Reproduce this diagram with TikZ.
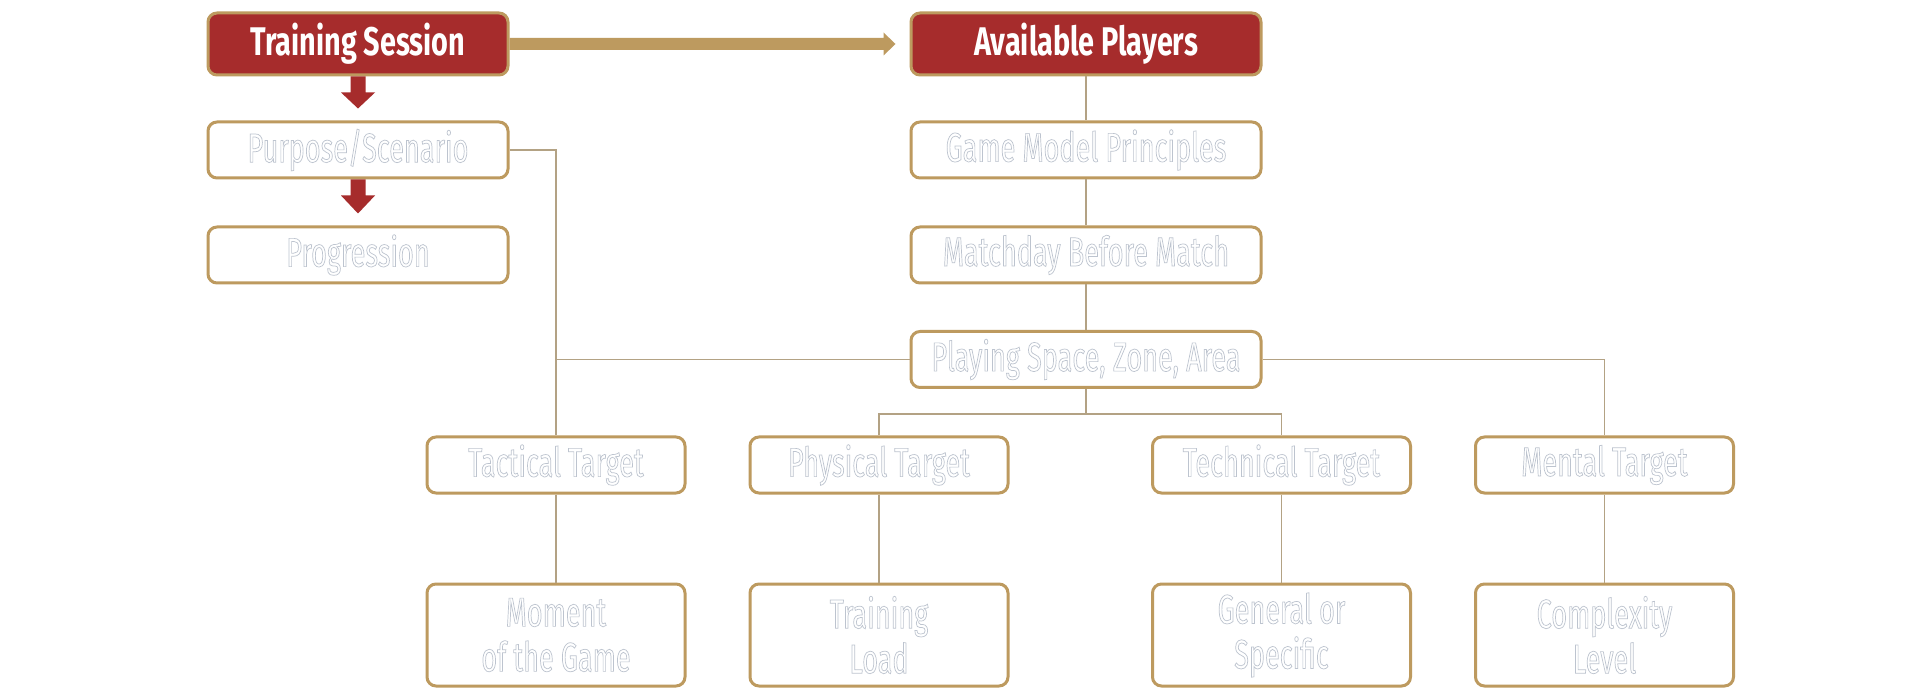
\documentclass[tikz,border=0pt]{standalone}
\usepackage{fontspec}
\setmainfont[FakeStretch=0.66]{Fira Sans}
\newfontfamily\titlefont[FakeStretch=0.72]{Fira Sans}
\usetikzlibrary{calc}
\definecolor{tred}{HTML}{A62C2C}
\definecolor{tan}{HTML}{BD9A5F}
\definecolor{lnk}{HTML}{B3A284}
\newcommand\outl[1]{{\special{pdf:code 1 Tr 0.7 w 0.74 0.77 0.81 RG}#1\special{pdf:code 0 Tr}}}
\tikzset{
  base/.style={draw=tan, line width=3pt, rounded corners=9pt, align=center, inner sep=0pt},
  titlebox/.style={base, fill=tred, text=white, minimum height=62pt, font=\titlefont\bfseries\fontsize{40}{45}\selectfont},
  plainbox/.style={base, fill=white, minimum height=56pt, font=\fontsize{41}{45}\selectfont},
  bigbox/.style={base, fill=white, minimum height=102pt, minimum width=258pt, font=\fontsize{41}{45}\selectfont},
  leftw/.style={minimum width=300pt},
  rightw/.style={minimum width=350pt},
  tgtw/.style={minimum width=258pt},
  link/.style={draw=lnk, line width=1.2pt},
}
\begin{document}
\begin{tikzpicture}[x=1pt,y=-1pt]
\useasboundingbox[fill=white] (0,0) rectangle (1920,700);
% top row
\node[titlebox,leftw] (ts) at (358,44) {Training Session};
\node[titlebox,rightw] (ap) at (1086,44) {Available Players};
% left column
\node[plainbox,leftw] (ps) at (358,150) {\outl{Purpose/Scenario}};
\node[plainbox,leftw] (pr) at (358,255) {\outl{Progression}};
% right column
\node[plainbox,rightw] (gm) at (1086,150) {\outl{Game Model Principles}};
\node[plainbox,rightw] (md) at (1086,255) {\outl{Matchday Before Match}};
\node[plainbox,rightw] (sp) at (1086,359.5) {\outl{Playing Space, Zone, Area}};
% targets
\node[plainbox,tgtw] (tt) at (556,465) {\outl{Tactical Target}};
\node[plainbox,tgtw] (pt) at (879,465) {\outl{Physical Target}};
\node[plainbox,tgtw] (tc) at (1281.5,465) {\outl{Technical Target}};
\node[plainbox,tgtw] (mt) at (1604.5,465) {\outl{Mental Target}};
% bottom
\node[bigbox] (mg) at (556,635) {\outl{Moment}\\\outl{of the Game}};
\node[bigbox] (tl) at (879,635) {\outl{Training}\\\outl{Load}};
\node[bigbox] (gs) at (1281.5,635) {\outl{General or}\\\outl{Specific}};
\node[bigbox] (cl) at (1604.5,635) {\outl{Complexity}\\\outl{Level}};
% connectors
\coordinate (bus) at ($(sp.south)+(0,25)$);
\draw[link] (ap.south) -- (gm.north);
\draw[link] (gm.south) -- (md.north);
\draw[link] (md.south) -- (sp.north);
\draw[link] (ps.east) -| (tt.north);
\draw[link] (sp.west) -- (sp.west -| tt.north);
\draw[link] (sp.east) -| (mt.north);
\draw[link] (sp.south) -- (bus);
\draw[link] (pt.north) |- (bus) -| (tc.north);
\draw[link] (tt.south) -- (mg.north);
\draw[link] (pt.south) -- (tl.north);
\draw[link] (tc.south) -- (gs.north);
\draw[link] (mt.south) -- (cl.north);
% red block arrows
\foreach \a/\b in {ts/ps, ps/pr}{
  \fill[tred] ($(\a.south)+(-7.5,0)$) -- ($(\a.south)+(7.5,0)$) -- ($(\a.south)+(7.5,16)$)
     -- ($(\a.south)+(17,16)$) -- ($(\b.north)+(0,-12)$) -- ($(\a.south)+(-17,16)$)
     -- ($(\a.south)+(-7.5,16)$) -- cycle;
}
% tan arrow
\fill[tan] ($(ts.east)+(0,-6)$) -- ($(ap.west)+(-26,-6)$) -- ($(ap.west)+(-26,-11.5)$)
   -- ($(ap.west)+(-14,0)$) -- ($(ap.west)+(-26,11.5)$) -- ($(ap.west)+(-26,6)$)
   -- ($(ts.east)+(0,6)$) -- cycle;
\end{tikzpicture}
\end{document}
